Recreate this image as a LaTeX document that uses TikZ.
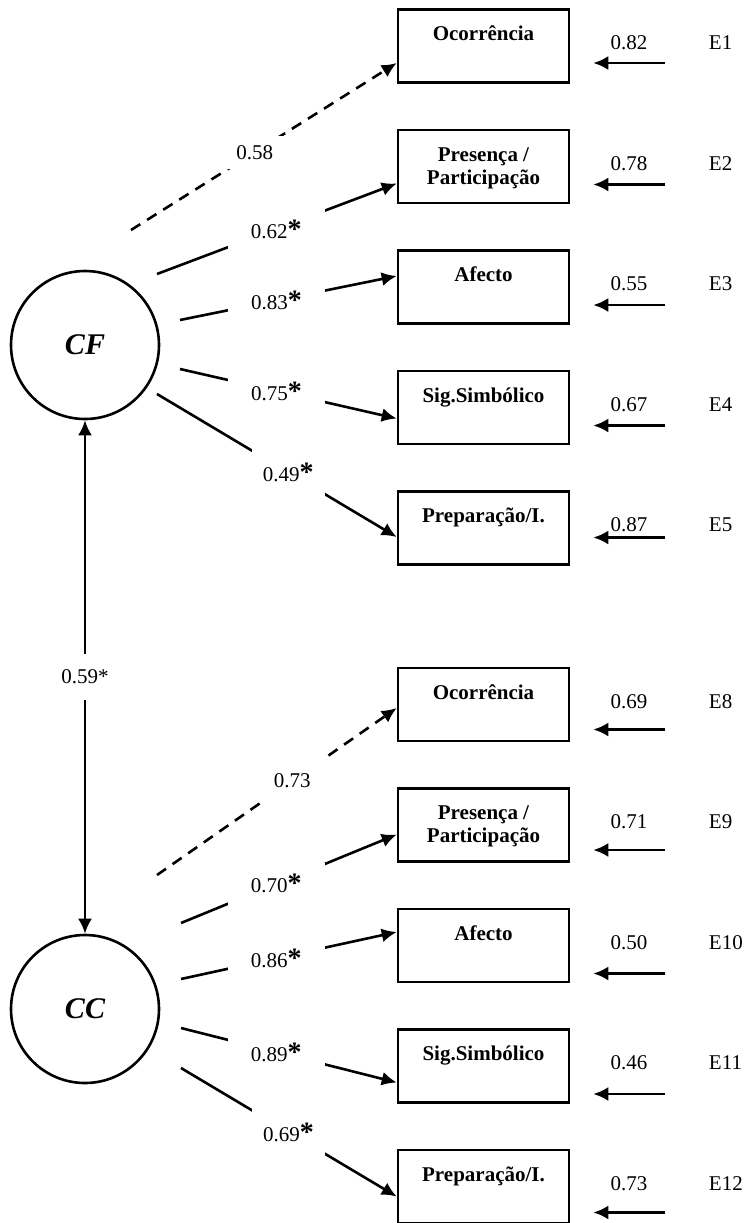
\documentclass[tikz,border=0pt]{standalone}
\usepackage{fontspec}
\setmainfont{Liberation Serif}
\usetikzlibrary{arrows.meta}
\newcommand{\signif}{{\fontsize{14}{14}\selectfont\textbf{*}}}

\begin{document}
\begin{tikzpicture}
	[x=0.5pt, y=-0.5pt, line width=1.3pt, node distance={60.25pt},
	 >={Latex[length=7.5pt,width=7pt]}, font=\fontsize{10.5}{11.5}\selectfont,
	 lat/.style = {draw, circle, minimum size=74pt, inner sep=0pt, font=\fontsize{15}{15}\selectfont\bfseries\itshape},
	 ind/.style = {draw, rectangle, minimum width=85.5pt, inner ysep=0pt, text height=15.5pt, text depth=21pt, align=center, font=\fontsize{10.5}{11.5}\selectfont\bfseries},
	 two/.style = {text height=27pt, text depth=9.5pt},
	 num/.style = {yshift=1.5pt},
	 wt/.style = {fill=white, inner xsep=11.5pt, inner ysep=6pt},
	 dsh/.style = {dash pattern=on 5.5pt off 4pt}]
	\useasboundingbox (0,0) rectangle (744,1223);
	\node[lat] (cf) at (85,345) {CF};
	\node[lat] (cc) at (85,1009) {CC};
	\node[ind] (f1) at (483.5,46) {Ocorrência};
	\node[ind, two] (f2) [below of = f1] {Presença /\\ Participação};
	\node[ind] (f3) [below of = f2] {Afecto};
	\node[ind] (f4) [below of = f3] {Sig.Simbólico};
	\node[ind] (f5) [below of = f4] {Preparação/I.};
	\node[ind] (c1) [below of = f5, node distance={88.25pt}] {Ocorrência};
	\node[ind, two] (c2) [below of = c1] {Presença /\\ Participação};
	\node[ind] (c3) [below of = c2] {Afecto};
	\node[ind] (c4) [below of = c3] {Sig.Simbólico};
	\node[ind] (c5) [below of = c4] {Preparação/I.};
	\node[num] (v1) [right of = f1, node distance={72.75pt}] {0.82};
	\node[num] (v2) [right of = f2, node distance={72.75pt}] {0.78};
	\node[num] (v3) [right of = f3, node distance={72.75pt}] {0.55};
	\node[num] (v4) [right of = f4, node distance={72.75pt}] {0.67};
	\node[num] (v5) [right of = f5, node distance={72.75pt}] {0.87};
	\node[num] (v8) [right of = c1, node distance={72.75pt}] {0.69};
	\node[num] (v9) [right of = c2, node distance={72.75pt}] {0.71};
	\node[num] (v10) [right of = c3, node distance={72.75pt}] {0.50};
	\node[num] (v11) [right of = c4, node distance={72.75pt}] {0.46};
	\node[num] (v12) [right of = c5, node distance={72.75pt}] {0.73};
	\node[num] (e1) [right of = f1, node distance={108.75pt}, anchor=west] {E1};
	\node[num] (e2) [right of = f2, node distance={108.75pt}, anchor=west] {E2};
	\node[num] (e3) [right of = f3, node distance={108.75pt}, anchor=west] {E3};
	\node[num] (e4) [right of = f4, node distance={108.75pt}, anchor=west] {E4};
	\node[num] (e5) [right of = f5, node distance={108.75pt}, anchor=west] {E5};
	\node[num] (e8) [right of = c1, node distance={108.75pt}, anchor=west] {E8};
	\node[num] (e9) [right of = c2, node distance={108.75pt}, anchor=west] {E9};
	\node[num] (e10) [right of = c3, node distance={108.75pt}, anchor=west] {E10};
	\node[num] (e11) [right of = c4, node distance={108.75pt}, anchor=west] {E11};
	\node[num] (e12) [right of = c5, node distance={108.75pt}, anchor=west] {E12};
	\coordinate (s1) at (131,230);
	\coordinate (s2) at (157,274);
	\coordinate (s3) at (180,320);
	\coordinate (s4) at (180,369);
	\coordinate (s5) at (157,394);
	\coordinate (s6) at (157,875);
	\coordinate (s7) at (181,923);
	\coordinate (s8) at (181,979);
	\coordinate (s9) at (181,1028);
	\coordinate (s10) at (181,1068);
	\draw[->, dsh] (s1) -- node[wt, pos=0.466, inner sep=4.75pt] (w1) {0.58} ([yshift=-8.5pt]f1.west);
	\draw[->] (s2) -- node[wt, pos=0.498] (w2) {0.62\signif} ([yshift=-8.5pt]f2.west);
	\draw[->] (s3) -- node[wt, pos=0.445] (w3) {0.83\signif} ([yshift=5.5pt]f3.west);
	\draw[->] (s4) -- node[wt, pos=0.445] (w4) {0.75\signif} ([yshift=-5.5pt]f4.west);
	\draw[->] (s5) -- node[wt, pos=0.548, inner xsep=5.5pt, inner ysep=7pt] (w5) {0.49\signif} ([yshift=-4.5pt]f5.west);
	\draw[->, dsh] (s6) -- node[wt, pos=0.564, inner xsep=7.25pt, inner ysep=7.5pt] (w6) {0.73} ([yshift=-1.75pt]c1.west);
	\draw[->] (s7) -- node[wt, pos=0.442] (w7) {0.70\signif} ([yshift=-4.75pt]c2.west);
	\draw[->] (s8) -- node[wt, pos=0.442] (w8) {0.86\signif} ([yshift=6.75pt]c3.west);
	\draw[->] (s9) -- node[wt, pos=0.442] (w9) {0.89\signif} ([yshift=-8.25pt]c4.west);
	\draw[->] (s10) -- node[wt, pos=0.498, inner xsep=5.5pt, inner ysep=7pt] (w10) {0.69\signif} ([yshift=-5pt]c5.west);
	\draw[<->] (cf) -- node[wt, inner xsep=3.5pt, inner ysep=8pt] (r) {0.59*} (cc);
	\draw[->] ([xshift=47.5pt,yshift=-8.5pt]f1.east) -- ++(-36pt,0);
	\draw[->] ([xshift=47.5pt,yshift=-9pt]f2.east) -- ++(-36pt,0);
	\draw[->] ([xshift=47.5pt,yshift=-9pt]f3.east) -- ++(-36pt,0);
	\draw[->] ([xshift=47.5pt,yshift=-9pt]f4.east) -- ++(-36pt,0);
	\draw[->] ([xshift=47.5pt,yshift=-4.75pt]f5.east) -- ++(-36pt,0);
	\draw[->] ([xshift=47.5pt,yshift=-12.5pt]c1.east) -- ++(-36pt,0);
	\draw[->] ([xshift=47.5pt,yshift=-12.5pt]c2.east) -- ++(-36pt,0);
	\draw[->] ([xshift=47.5pt,yshift=-14pt]c3.east) -- ++(-36pt,0);
	\draw[->] ([xshift=47.5pt,yshift=-14pt]c4.east) -- ++(-36pt,0);
	\draw[->] ([xshift=47.5pt,yshift=-13pt]c5.east) -- ++(-36pt,0);
\end{tikzpicture}
\end{document}
